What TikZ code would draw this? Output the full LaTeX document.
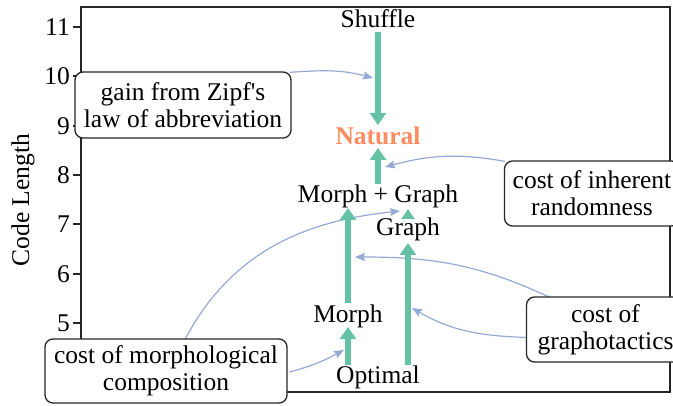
\documentclass[tikz,border=0pt]{standalone}
\usepackage{fontspec}
\setmainfont{Liberation Serif}[Ligatures=TeXOff]
\usetikzlibrary{arrows.meta,backgrounds,calc}
\definecolor{ggreen}{HTML}{66C2A5}
\definecolor{gorange}{HTML}{FC8D62}
\definecolor{gblue}{RGB}{150,168,212}
\begin{document}
\begin{tikzpicture}[x=1pt,y=1pt,
  lbl/.style={font=\fontsize{25.5}{27}\selectfont, inner sep=0pt, anchor=base},
  box/.style={draw=black!85, line width=1.3pt, rounded corners=8pt, fill=white, align=center,
    font=\fontsize{25.5}{27}\selectfont, inner xsep=8pt, inner ysep=0pt},
  garrow/.style={draw=ggreen, line width=6.5pt, -{Triangle[width=16pt,length=12pt]}},
  gsmall/.style={draw=ggreen, line width=6.5pt, -{Triangle[width=13pt,length=10pt]}},
  conn/.style={draw=gblue, line width=1.2pt, -{Stealth[length=10pt,width=8pt,inset=1.5pt]}},
  axisline/.style={draw=black!85, line width=2pt},
  ticklbl/.style={font=\fontsize{25.5}{27}\selectfont, inner sep=0pt, anchor=east}
]
\useasboundingbox (0,0) rectangle (673,405);

% axis labels
\node[font=\fontsize{25.5}{27}\selectfont, rotate=90, inner sep=0pt] (ylab) at (23,205) {Code Length};
\foreach \v/\yy in {11/378,10/328.7,9/279.3,8/230,7/180.7,6/131.3,5/82}
  \node[ticklbl] (t\v) at (70,\yy) {\v};

% text nodes
\node[lbl] (shuffle) at (378,377) {Shuffle};
\node[lbl, text=gorange, font=\fontsize{25.5}{27}\selectfont\bfseries] (natural) at (378,260) {Natural};
\node[lbl] (mg) at (378,202) {Morph + Graph};
\node[lbl] (graph) at (408,169) {Graph};
\node[lbl] (morph) at (348,82) {Morph};
\node[lbl] (optimal) at (378,22) {Optimal};

% green arrows
\draw[garrow] ($(shuffle.base)+(0,-4)$) -- ($(natural.base)+(0,20)$);
\draw[garrow] ($(mg.base)+(0,19)$) -- ($(natural.base)+(0,-3)$);
\draw[garrow] ($(morph.base)+(0,20)$) -- ($(morph.base |- mg.base)+(0,-5)$);
\draw[gsmall] ($(graph.base)+(0,17)$) -- ($(graph.base)+(0,27)$);
\draw[garrow] ($(graph.base |- optimal.base)+(0,18)$) -- ($(graph.base)+(0,-7)$);
\draw[garrow] ($(morph.base |- optimal.base)+(0,18)$) -- ($(morph.base)+(0,-4)$);

% annotation boxes
\node[box, minimum width=216pt, minimum height=66pt] (gain) at (183,300) {gain from Zipf's\\law of abbreviation};
\node[box, minimum width=175pt, minimum height=65pt] (rand) at (592,211.5) {cost of inherent\\randomness};
\node[box, minimum width=158pt, minimum height=65pt] (grapho) at (605.5,75.5) {cost of\\graphotactics};
\node[box, minimum width=242pt, minimum height=64pt] (mcomp) at (166,34) {cost of morphological\\composition};

% arrow targets on the green shafts
\coordinate (ta) at (373,327);
\coordinate (tb) at (385,238);
\coordinate (tc) at (355,148);
\coordinate (td) at (412,97);
\coordinate (te) at (400,194);
\coordinate (tf) at (344,55);

\begin{scope}[on background layer]
  \draw[axisline] (81,13) rectangle (670,398);
  \foreach \yy in {378,328.7,279.3,230,180.7,131.3,82}
    \draw[axisline] (73,\yy) -- (81,\yy);
  \draw[conn] ($(gain.north east)+(-2,-1)$) to[out=4,in=165] (ta);
  \draw[conn] ($(rand.north west)+(1,-1)$) to[out=170,in=15] (tb);
  \draw[conn] ($(grapho.north west)+(24,-1)$) to[out=155,in=0] (tc);
  \draw[conn] ($(grapho.west)+(1,-8)$) to[out=178,in=-30] (td);
  \draw[conn] ($(mcomp.north)+(19,-1)$) to[out=62,in=186] (te);
  \draw[conn] ($(mcomp.east)+(2,-1)$) to[out=15,in=208] (tf);
\end{scope}
\end{tikzpicture}
\end{document}
